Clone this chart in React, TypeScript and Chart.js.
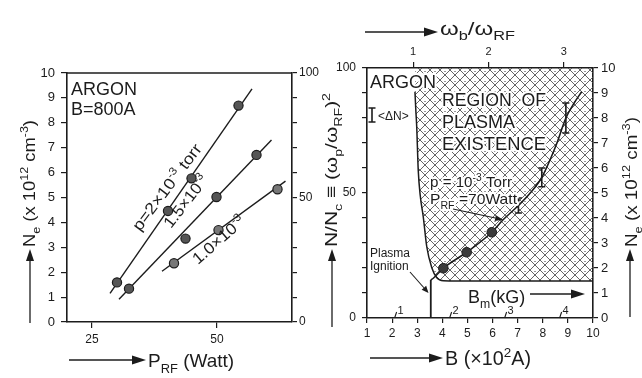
import React, { useEffect, useRef } from 'react';
import { Chart, registerables } from 'chart.js';

Chart.register(...registerables);

const FONT = "'Liberation Sans', Arial, Helvetica, sans-serif";
const INK = '#1c1c1c';

// ---------------- left panel data ----------------
const powerTicks = [25, 50];
const neTicksLeft = [0, 1, 2, 3, 4, 5, 6, 7, 8, 9, 10];
const ratioTicks = [0, 10, 20, 30, 40, 50, 60, 70, 80, 90, 100];
const ratioLabels = [0, 50, 100];

const p2Power = [30.0, 40.2, 44.9, 54.3];
const p2Ne = [1.59, 4.46, 5.77, 8.69];
const p15Power = [32.4, 43.7, 49.9, 57.9];
const p15Ne = [1.34, 3.35, 5.02, 6.71];
const p1Power = [41.4, 50.3, 62.1];
const p1Ne = [2.36, 3.69, 5.33];

const fit2Power = [28.6, 57.0];
const fit2Ne = [1.15, 9.36];
const fit15Power = [30.4, 60.9];
const fit15Ne = [0.91, 7.31];
const fit1Power = [39.0, 63.7];
const fit1Ne = [2.04, 5.66];

// ---------------- right panel data ----------------
const bTicks = [1, 2, 3, 4, 5, 6, 7, 8, 9, 10];
const omegaTicks = [1, 2, 3];
const omegaRange = [0.387, 3.387];
const bmTicks = [1, 2, 3, 4];
const bmRange = [0.498, 4.607];
const neTicksRight = [0, 1, 2, 3, 4, 5, 6, 7, 8, 9, 10];

const measB = [4.04, 4.97, 5.97];
const measRatio = [19.9, 26.3, 34.3];
const errB = [7.03, 7.96, 8.92];
const errLow = [42, 52.5, 74];
const errHigh = [48, 60, 86];

const curveB = [3.54, 3.64, 4.04, 4.97, 5.97, 6.42, 7.03, 7.5, 7.96, 8.3, 8.56, 8.92, 9.25, 9.55];
const curveRatio = [15.2, 15.9, 19.9, 26.3, 34.3, 39.3, 45.0, 50.0, 56.2, 63.5, 69.9, 80.0, 86.0, 90.5];
const ignitionB = [3.54, 3.54];
const ignitionRatio = [0, 15.2];

const boundB = [2.91, 2.94, 2.98, 3.04, 3.12, 3.24, 3.38, 3.58, 3.78, 4.04, 4.6, 10];
const boundRatio = [90.5, 84, 76.5, 59.2, 49, 40.5, 28.5, 20.1, 16.1, 14.9, 14.8, 14.8];

// ---------------- helpers ----------------
type Seg = { t: string; k?: 'sub' | 'sup' };

const pts = (xs: number[], ys: number[]) => xs.map((x, i) => ({ x, y: ys[i] }));

function drawRich(
  ctx: CanvasRenderingContext2D,
  segs: Seg[],
  x: number,
  y: number,
  size: number,
  opt: { angle?: number; width?: number; halo?: boolean } = {}
) {
  ctx.save();
  ctx.translate(x, y);
  if (opt.angle) ctx.rotate(opt.angle);
  const sized = segs.map((s) => {
    const fs = s.k ? size * 0.68 : size;
    ctx.font = `${fs}px ${FONT}`;
    return { ...s, fs, w: ctx.measureText(s.t).width };
  });
  const nat = sized.reduce((a, s) => a + s.w, 0);
  if (opt.width) ctx.scale(opt.width / nat, 1);
  ctx.textAlign = 'left';
  ctx.textBaseline = 'alphabetic';
  if (opt.halo) {
    let hx = 0;
    for (const s of sized) {
      ctx.font = `${s.fs}px ${FONT}`;
      const dy = s.k === 'sub' ? size * 0.3 : s.k === 'sup' ? -size * 0.42 : 0;
      ctx.strokeStyle = '#fff';
      ctx.lineWidth = 4;
      ctx.lineJoin = 'round';
      ctx.strokeText(s.t, hx, dy);
      hx += s.w;
    }
  }
  let cx = 0;
  for (const s of sized) {
    ctx.font = `${s.fs}px ${FONT}`;
    const dy = s.k === 'sub' ? size * 0.3 : s.k === 'sup' ? -size * 0.42 : 0;
    ctx.fillStyle = INK;
    ctx.fillText(s.t, cx, dy);
    cx += s.w;
  }
  ctx.restore();
}

function arrow(
  ctx: CanvasRenderingContext2D,
  x1: number,
  y1: number,
  x2: number,
  y2: number,
  head = 12,
  half = 4,
  lw = 1.3
) {
  const ang = Math.atan2(y2 - y1, x2 - x1);
  const bx = x2 - head * Math.cos(ang);
  const by = y2 - head * Math.sin(ang);
  ctx.save();
  ctx.strokeStyle = INK;
  ctx.fillStyle = INK;
  ctx.lineWidth = lw;
  ctx.beginPath();
  ctx.moveTo(x1, y1);
  ctx.lineTo(bx, by);
  ctx.stroke();
  ctx.beginPath();
  ctx.moveTo(x2, y2);
  ctx.lineTo(bx + half * Math.sin(ang), by - half * Math.cos(ang));
  ctx.lineTo(bx - half * Math.sin(ang), by + half * Math.cos(ang));
  ctx.closePath();
  ctx.fill();
  ctx.restore();
}

function makeHatch(): CanvasPattern | string {
  const c = document.createElement('canvas');
  c.width = 10;
  c.height = 10;
  const g = c.getContext('2d');
  if (!g) return 'rgba(0,0,0,0.3)';
  g.strokeStyle = '#4a4a4a';
  g.lineWidth = 0.85;
  g.beginPath();
  g.moveTo(-1, -1);
  g.lineTo(11, 11);
  g.moveTo(11, -1);
  g.lineTo(-1, 11);
  g.stroke();
  g.fillStyle = '#333';
  g.fillRect(4.5, 1, 1, 1);
  return g.createPattern(c, 'repeat') || 'rgba(0,0,0,0.3)';
}

const gridOpts = (len: number) => ({
  drawOnChartArea: false,
  drawTicks: true,
  tickLength: len,
  color: INK,
  lineWidth: 1.2,
});
const borderOpts = { display: true, color: INK, width: 1.6 };
const tickOpts = (size: number, pad: number) => ({
  font: { family: FONT, size },
  color: INK,
  padding: pad,
  maxRotation: 0,
  autoSkip: false,
});
const setTicks = (vals: number[]) => (s: any) => {
  s.ticks = vals.map((v) => ({ value: v }));
};

// ---------------- left chart ----------------
function leftConfig(): any {
  const lineDs = (xs: number[], ys: number[]) => ({
    data: pts(xs, ys),
    borderColor: INK,
    borderWidth: 1.4,
    pointRadius: 0,
    fill: false,
    xAxisID: 'x',
    yAxisID: 'y',
  });
  const ptDs = (xs: number[], ys: number[], bg: string) => ({
    data: pts(xs, ys),
    showLine: false,
    pointRadius: 4.6,
    pointBackgroundColor: bg,
    pointBorderColor: INK,
    pointBorderWidth: 1.2,
    xAxisID: 'x',
    yAxisID: 'y',
  });
  const deco = {
    id: 'leftDeco',
    afterDraw(chart: any) {
      const ctx: CanvasRenderingContext2D = chart.ctx;
      const a = chart.chartArea;
      const deg = Math.PI / 180;
      ctx.save();
      ctx.strokeStyle = INK;
      ctx.lineWidth = 1.6;
      ctx.beginPath();
      ctx.moveTo(a.left, a.top);
      ctx.lineTo(a.right, a.top);
      ctx.stroke();
      ctx.restore();

      drawRich(ctx, [{ t: 'ARGON' }], 71, 95, 18);
      drawRich(ctx, [{ t: 'B=800A' }], 71, 115, 18);
      drawRich(ctx, [{ t: 'p=2×10' }, { t: '-3', k: 'sup' }, { t: ' torr' }], 140, 232, 16, { angle: -53 * deg, width: 104 });
      drawRich(ctx, [{ t: '1.5×10' }, { t: '-3', k: 'sup' }], 171, 229, 16, { angle: -52 * deg, width: 62 });
      drawRich(ctx, [{ t: '1.0×10' }, { t: '-3', k: 'sup' }], 198, 265, 16, { angle: -41 * deg, width: 64 });

      drawRich(
        ctx,
        [{ t: 'N' }, { t: 'e', k: 'sub' }, { t: ' (x 10' }, { t: '12', k: 'sup' }, { t: ' cm' }, { t: '-3', k: 'sup' }, { t: ')' }],
        35,
        247,
        17,
        { angle: -Math.PI / 2, width: 127 }
      );
      arrow(ctx, 30, 323, 30, 249);

      drawRich(
        ctx,
        [{ t: 'N/N' }, { t: 'c', k: 'sub' }, { t: ' ≡ (ω' }, { t: 'p', k: 'sub' }, { t: '/ω' }, { t: 'RF', k: 'sub' }, { t: ')' }, { t: '2', k: 'sup' }],
        337,
        247,
        17,
        { angle: -Math.PI / 2, width: 154 }
      );
      arrow(ctx, 332, 327, 332, 249);

      arrow(ctx, 69, 360, 146, 360, 14, 4.5);
      drawRich(ctx, [{ t: 'P' }, { t: 'RF', k: 'sub' }, { t: ' (Watt)' }], 148, 367, 19);
    },
  };
  return {
    type: 'line',
    data: {
      datasets: [
        ptDs(p2Power, p2Ne, '#555'),
        ptDs(p15Power, p15Ne, '#555'),
        ptDs(p1Power, p1Ne, '#777'),
        lineDs(fit2Power, fit2Ne),
        lineDs(fit15Power, fit15Ne),
        lineDs(fit1Power, fit1Ne),
      ],
    },
    options: {
      responsive: false,
      animation: false,
      events: [],
      devicePixelRatio: 1,
      layout: { autoPadding: false, padding: { left: 27, right: 310, top: 73, bottom: 26 } },
      plugins: { legend: { display: false }, tooltip: { enabled: false } },
      scales: {
        x: {
          type: 'linear',
          axis: 'x',
          position: 'bottom',
          min: 20,
          max: 65,
          afterBuildTicks: setTicks(powerTicks),
          afterFit: (s: any) => {
            s.height = 30;
          },
          grid: gridOpts(6),
          border: borderOpts,
          ticks: tickOpts(12, 4),
        },
        y: {
          type: 'linear',
          axis: 'y',
          position: 'left',
          min: 0,
          max: 10,
          afterBuildTicks: setTicks(neTicksLeft),
          afterFit: (s: any) => {
            s.width = 40;
          },
          grid: gridOpts(6),
          border: borderOpts,
          ticks: tickOpts(13, 6),
        },
        y2: {
          type: 'linear',
          axis: 'y',
          position: 'right',
          min: 0,
          max: 100,
          afterBuildTicks: setTicks(ratioTicks),
          afterFit: (s: any) => {
            s.width = 40;
          },
          grid: gridOpts(5),
          border: borderOpts,
          ticks: {
            ...tickOpts(12, 2),
            callback: (v: any) => (ratioLabels.includes(Number(v)) ? String(v) : ''),
          },
        },
      },
    },
    plugins: [deco],
  };
}

// ---------------- right chart ----------------
function rightConfig(): any {
  const hatch = makeHatch();
  const deco = {
    id: 'rightDeco',
    afterDraw(chart: any) {
      const ctx: CanvasRenderingContext2D = chart.ctx;
      const a = chart.chartArea;
      const xs = chart.scales.x;
      const ys = chart.scales.y;
      const bm = chart.scales.xBm;

      ctx.save();
      ctx.strokeStyle = INK;
      ctx.lineWidth = 1.6;
      errB.forEach((b, i) => {
        const px = xs.getPixelForValue(b);
        const y1 = ys.getPixelForValue(errLow[i]);
        const y2 = ys.getPixelForValue(errHigh[i]);
        ctx.beginPath();
        ctx.moveTo(px, y1);
        ctx.lineTo(px, y2);
        ctx.moveTo(px - 3.5, y1);
        ctx.lineTo(px + 3.5, y1);
        ctx.moveTo(px - 3.5, y2);
        ctx.lineTo(px + 3.5, y2);
        ctx.stroke();
      });

      ctx.lineWidth = 1.1;
      bmTicks.forEach((v) => {
        const px = bm.getPixelForValue(v);
        ctx.beginPath();
        ctx.moveTo(px, a.bottom);
        ctx.lineTo(px + 2, a.bottom - 6);
        ctx.stroke();
        ctx.fillStyle = INK;
        ctx.font = `11px ${FONT}`;
        ctx.fillText(String(v), px + 3, a.bottom - 4);
      });

      // I<ΔN> legend glyph
      ctx.lineWidth = 1.6;
      ctx.beginPath();
      ctx.moveTo(372, 108);
      ctx.lineTo(372, 122);
      ctx.moveTo(368.5, 108);
      ctx.lineTo(375.5, 108);
      ctx.moveTo(368.5, 122);
      ctx.lineTo(375.5, 122);
      ctx.stroke();
      ctx.restore();

      drawRich(ctx, [{ t: '<ΔN>' }], 378, 120, 12);
      drawRich(ctx, [{ t: 'ARGON' }], 370, 88, 18, { halo: true });
      drawRich(ctx, [{ t: 'REGION  OF' }], 442, 106, 18, { halo: true, width: 104 });
      drawRich(ctx, [{ t: 'PLASMA' }], 442, 128, 18, { halo: true });
      drawRich(ctx, [{ t: 'EXISTENCE' }], 442, 150, 18, { halo: true, width: 104 });
      drawRich(ctx, [{ t: 'p = 10' }, { t: '-3', k: 'sup' }, { t: ' Torr' }], 430, 187, 15, { halo: true, width: 82 });
      drawRich(ctx, [{ t: 'P' }, { t: 'RF', k: 'sub' }, { t: ' =70Watt' }], 430, 204, 15, { halo: true, width: 87 });
      arrow(ctx, 453, 209, xs.getPixelForValue(6.42), ys.getPixelForValue(39.3), 8, 3, 1.1);

      drawRich(ctx, [{ t: 'Plasma' }], 370, 257, 12);
      drawRich(ctx, [{ t: 'Ignition' }], 370, 270, 12);
      arrow(ctx, 410, 272, xs.getPixelForValue(3.45), ys.getPixelForValue(10), 7, 3, 1.1);

      drawRich(ctx, [{ t: 'B' }, { t: 'm', k: 'sub' }, { t: '(kG)' }], 468, 303, 18, { halo: true });
      arrow(ctx, 530, 294, 585, 294, 14, 4.5);

      // axis titles
      arrow(ctx, 365, 32, 438, 32, 14, 4.5);
      drawRich(ctx, [{ t: 'ω' }, { t: 'b', k: 'sub' }, { t: '/ω' }, { t: 'RF', k: 'sub' }], 440, 35, 18, { width: 75 });
      arrow(ctx, 370, 358, 443, 358, 14, 4.5);
      drawRich(ctx, [{ t: 'B (×10' }, { t: '2', k: 'sup' }, { t: 'A)' }], 445, 365, 20, { width: 86 });
      drawRich(
        ctx,
        [{ t: 'N' }, { t: 'e', k: 'sub' }, { t: ' (x 10' }, { t: '12', k: 'sup' }, { t: ' cm' }, { t: '-3', k: 'sup' }, { t: ')' }],
        637,
        247,
        17,
        { angle: -Math.PI / 2, width: 130 }
      );
      arrow(ctx, 630, 317, 630, 249);
    },
  };

  return {
    type: 'line',
    data: {
      datasets: [
        {
          data: pts(measB, measRatio),
          showLine: false,
          pointRadius: 4.8,
          pointBackgroundColor: '#3a3a3a',
          pointBorderColor: INK,
          pointBorderWidth: 1,
          xAxisID: 'x',
          yAxisID: 'y',
        },
        {
          data: pts(curveB, curveRatio),
          borderColor: INK,
          borderWidth: 1.6,
          pointRadius: 0,
          cubicInterpolationMode: 'monotone',
          fill: false,
          xAxisID: 'x',
          yAxisID: 'y',
        },
        {
          data: pts(ignitionB, ignitionRatio),
          borderColor: INK,
          borderWidth: 1.8,
          pointRadius: 0,
          fill: false,
          xAxisID: 'x',
          yAxisID: 'y',
        },
        {
          data: pts(boundB, boundRatio),
          borderColor: INK,
          borderWidth: 1.5,
          pointRadius: 0,
          cubicInterpolationMode: 'monotone',
          fill: 'end',
          backgroundColor: hatch,
          xAxisID: 'x',
          yAxisID: 'y',
        },
      ],
    },
    options: {
      responsive: false,
      animation: false,
      events: [],
      devicePixelRatio: 1,
      layout: { autoPadding: false, padding: { left: 327, right: 9, top: 38, bottom: 30 } },
      plugins: { legend: { display: false }, tooltip: { enabled: false } },
      scales: {
        x: {
          type: 'linear',
          axis: 'x',
          position: 'bottom',
          min: 1,
          max: 10,
          afterBuildTicks: setTicks(bTicks),
          afterFit: (s: any) => {
            s.height = 30;
          },
          grid: gridOpts(5),
          border: borderOpts,
          ticks: tickOpts(12, 3),
        },
        xw: {
          type: 'linear',
          axis: 'x',
          position: 'top',
          min: omegaRange[0],
          max: omegaRange[1],
          afterBuildTicks: setTicks(omegaTicks),
          afterFit: (s: any) => {
            s.height = 30;
          },
          grid: gridOpts(6),
          border: { display: true, color: INK, width: 1.6, dash: [2, 3] },
          ticks: tickOpts(11, 3),
        },
        xBm: {
          type: 'linear',
          axis: 'x',
          position: 'bottom',
          display: false,
          min: bmRange[0],
          max: bmRange[1],
        },
        y: {
          type: 'linear',
          axis: 'y',
          position: 'left',
          min: 0,
          max: 100,
          afterBuildTicks: setTicks(ratioTicks),
          afterFit: (s: any) => {
            s.width = 40;
          },
          grid: gridOpts(5),
          border: borderOpts,
          ticks: {
            ...tickOpts(12, 6),
            callback: (v: any) => (ratioLabels.includes(Number(v)) ? String(v) : ''),
          },
        },
        y2: {
          type: 'linear',
          axis: 'y',
          position: 'right',
          min: 0,
          max: 10,
          afterBuildTicks: setTicks(neTicksRight),
          afterFit: (s: any) => {
            s.width = 40;
          },
          grid: gridOpts(5),
          border: borderOpts,
          ticks: tickOpts(13, 3),
        },
      },
    },
    plugins: [deco],
  };
}

export default function App() {
  const leftRef = useRef<HTMLCanvasElement>(null);
  const rightRef = useRef<HTMLCanvasElement>(null);
  useEffect(() => {
    const left = new Chart(leftRef.current as HTMLCanvasElement, leftConfig());
    const right = new Chart(rightRef.current as HTMLCanvasElement, rightConfig());
    return () => {
      left.destroy();
      right.destroy();
    };
  }, []);
  return (
    <div style={{ position: 'absolute', left: 0, top: 0, width: 642, height: 378, background: '#fff', overflow: 'hidden' }}>
      <canvas ref={leftRef} width={642} height={378} style={{ position: 'absolute', left: 0, top: 0 }} />
      <canvas ref={rightRef} width={642} height={378} style={{ position: 'absolute', left: 0, top: 0 }} />
    </div>
  );
}
